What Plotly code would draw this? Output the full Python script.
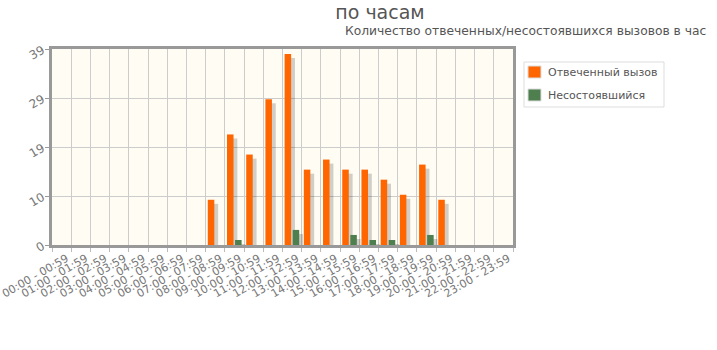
import plotly.graph_objects as go

hours = [f"{h:02d}:00 - {h:02d}:59" for h in range(24)]
answered = [0, 0, 0, 0, 0, 0, 0, 0, 9, 22, 18, 29, 38, 15, 17, 15, 15, 13, 10, 16, 9, 0, 0, 0]
missed = [0, 0, 0, 0, 0, 0, 0, 0, 0, 1, 0, 0, 3, 0, 0, 2, 1, 1, 0, 2, 0, 0, 0, 0]
ytick_vals = [0, 9.75, 19.5, 29.25, 39]
ytick_text = ["0", "10", "19", "29", "39"]

title_text = "по часам"
subtitle_text = "Количество отвеченных/несостоявшихся вызовов в час"
name_answered = "Отвеченный вызов"
name_missed = "Несостоявшийся"

ORANGE = "#FF6600"
GREEN = "#4F7F4F"
SHADOW = "rgba(0,0,0,0.18)"
FONT = "DejaVu Sans"

# plot area in pixels
PL, PR, PT, PB = 52, 513, 49, 245
PW, PH = PR - PL, PB - PT


def px(x):
    return (x - PL) / PW


def py(y):
    return (PB - y) / PH


w = 0.34
off_a = -0.39
off_m = 0.03
sh_dx = 0.2
sh_base = -0.8

fig = go.Figure()
fig.add_trace(go.Bar(x=hours, y=answered, base=sh_base, offset=off_a + sh_dx, width=w,
                     marker=dict(color=SHADOW, line=dict(width=0)), showlegend=False, hoverinfo="skip"))
fig.add_trace(go.Bar(x=hours, y=missed, base=sh_base, offset=off_m + sh_dx, width=w,
                     marker=dict(color=SHADOW, line=dict(width=0)), showlegend=False, hoverinfo="skip"))
fig.add_trace(go.Bar(x=hours, y=answered, name=name_answered, offset=off_a, width=w,
                     marker=dict(color=ORANGE, line=dict(width=0)), showlegend=False))
fig.add_trace(go.Bar(x=hours, y=missed, name=name_missed, offset=off_m, width=w,
                     marker=dict(color=GREEN, line=dict(width=0)), showlegend=False))

fig.update_layout(
    width=717, height=350,
    margin=dict(l=PL, r=717 - PR, t=PT, b=350 - PB, autoexpand=False),
    barmode="overlay",
    paper_bgcolor="white",
    plot_bgcolor="#FFFCF4",
    font=dict(family=FONT, color="#666666", size=11),
    title=dict(text=title_text, x=380 / 717, xanchor="center", xref="container",
               y=1 - 12 / 350, yanchor="middle", yref="container",
               font=dict(size=19, color="#555555", family=FONT)),
    showlegend=False,
)
fig.add_annotation(text=subtitle_text, xref="paper", yref="paper",
                   x=px(708), y=py(31), xanchor="right", yanchor="middle",
                   showarrow=False, font=dict(size=12.3, color="#555555", family=FONT))

# legend box (manual)
fig.add_shape(type="rect", xref="paper", yref="paper", x0=px(524), x1=px(664), y0=py(62), y1=py(107),
              line=dict(color="#DDDDDD", width=1), fillcolor="white", layer="above")
for name, color, yc in [(name_answered, ORANGE, 72), (name_missed, GREEN, 95)]:
    fig.add_shape(type="rect", xref="paper", yref="paper", x0=px(528), x1=px(541),
                  y0=py(yc + 6), y1=py(yc - 6), line=dict(color="#DDDDDD", width=1),
                  fillcolor=color, layer="above")
    fig.add_annotation(text=name, xref="paper", yref="paper", x=px(546), y=py(yc),
                       xanchor="left", yanchor="middle", showarrow=False,
                       font=dict(size=11, color="#555555", family=FONT))

fig.update_xaxes(
    type="category", tickson="boundaries", showgrid=True, gridcolor="#CCCCCC", gridwidth=1,
    ticks="outside", ticklen=4, tickcolor="#BBBBBB", tickangle=-30, automargin=False,
    ticklabelshift=5,
    showline=True, linecolor="#999999", linewidth=3, mirror=True,
    tickfont=dict(size=11, color="#777777"), range=[-0.5, 23.5],
)
fig.update_yaxes(
    range=[0, 39], tickvals=ytick_vals, ticktext=ytick_text, tickangle=-30, automargin=False,
    showgrid=True, gridcolor="#CCCCCC", gridwidth=1, zeroline=False,
    showline=True, linecolor="#999999", linewidth=3, mirror=True,
    ticks="outside", ticklen=4, tickcolor="#999999",
    tickfont=dict(size=12, color="#777777"),
)

fig.write_html("out.html")
